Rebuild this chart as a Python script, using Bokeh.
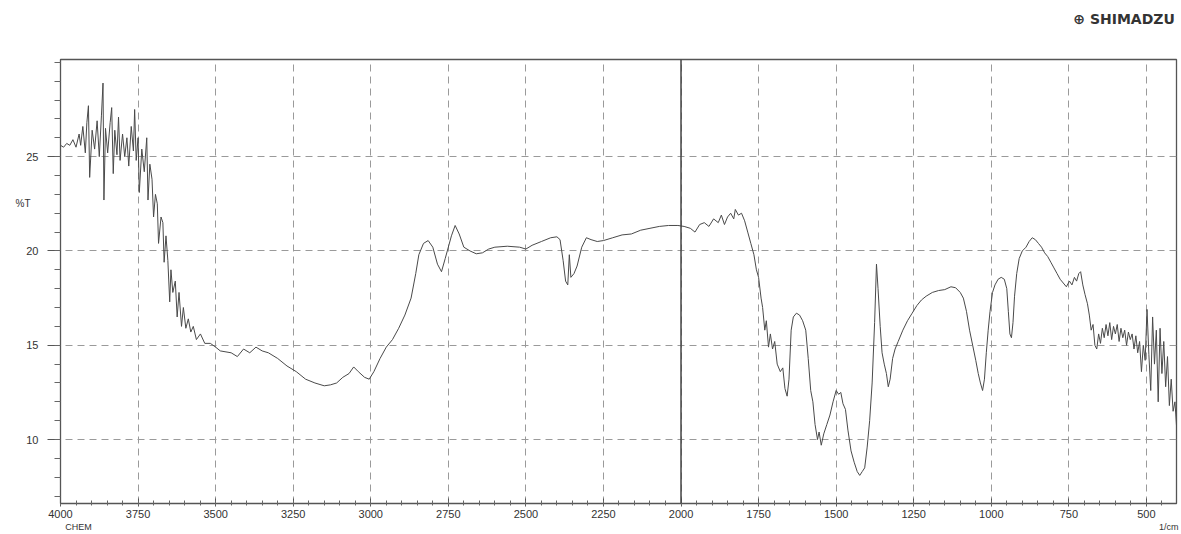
from bokeh.plotting import figure
from bokeh.models import Range1d, FixedTicker, Span, LinearAxis
from bokeh.embed import file_html
from bokeh.resources import INLINE

# wavenumber (1/cm) and transmittance (%T)
wavenumber = [
    4000, 3990, 3980, 3970, 3960, 3950, 3940, 3935, 3928, 3920, 3915, 3910, 3906,
    3898, 3890, 3882, 3875, 3868, 3863, 3860, 3855, 3848, 3840, 3835, 3830, 3825,
    3818, 3813, 3808, 3800, 3793, 3786, 3780, 3772, 3765, 3761, 3756, 3750, 3746,
    3738, 3730, 3722, 3718, 3712, 3705, 3700, 3694, 3688, 3684, 3676, 3670, 3666,
    3660, 3654, 3648, 3644, 3638, 3630, 3624, 3618, 3610, 3604, 3596, 3588, 3580,
    3572, 3562, 3549, 3535, 3517, 3500, 3485,
    3450, 3430, 3410, 3390, 3370, 3350, 3330, 3300, 3270, 3240, 3210, 3180, 3150,
    3130, 3110, 3090, 3070, 3055, 3040, 3020, 3005, 2990, 2970, 2950, 2930, 2910,
    2890, 2870, 2855, 2845, 2830, 2815, 2800, 2785, 2772, 2760, 2740, 2728, 2715,
    2700, 2680, 2660, 2640, 2620, 2600, 2560, 2520, 2500, 2480, 2450, 2420, 2400,
    2390, 2380, 2372, 2365, 2360, 2355, 2345, 2335, 2320, 2305, 2290, 2270, 2250,
    2220, 2190, 2160, 2130, 2100, 2070, 2040, 2010, 1990, 1970, 1955, 1940, 1925,
    1910, 1895, 1880, 1870, 1860, 1850, 1840, 1830, 1825, 1815, 1805, 1795, 1785,
    1775, 1765, 1757, 1750, 1742, 1737, 1730, 1725, 1718, 1712, 1705, 1698, 1690,
    1680, 1672, 1665, 1658, 1652, 1645, 1638, 1628, 1618, 1608, 1598, 1590, 1582,
    1575, 1568, 1560, 1555, 1548, 1540, 1530, 1520, 1510, 1500, 1492, 1485, 1478,
    1470, 1462, 1452, 1442, 1432, 1424, 1416, 1408, 1400, 1392, 1384, 1376, 1370,
    1365, 1358, 1352, 1345, 1338, 1332, 1326, 1318, 1310, 1300, 1285, 1270, 1255,
    1240, 1225, 1210, 1190, 1170, 1150, 1130, 1115, 1100, 1090, 1080, 1070, 1060,
    1050, 1042, 1035, 1028, 1022, 1016, 1010, 1004, 996, 988, 978, 968, 958, 950,
    945, 940, 935, 930, 925, 918, 910, 900, 888, 878, 868, 858, 848, 838, 828, 818,
    808, 798, 788, 778, 768, 758, 748, 740, 732, 725, 718, 712, 705, 698, 690, 684,
    678, 672, 666, 660, 654, 648, 642, 636, 630, 624, 618, 612, 606, 600, 594, 588,
    582, 576, 570, 564, 558, 552, 546, 540, 534, 528, 522, 516, 510, 504, 498, 492,
    486, 480, 474, 468, 462, 456, 450, 444, 438, 432, 426, 420, 414, 408, 402, 400,
]
transmittance = [
    25.6, 25.5, 25.7, 25.6, 25.9, 25.5, 26.2, 25.6, 26.6, 25.2, 26.8, 27.7, 23.9,
    26.4, 25.4, 26.9, 25.0, 27.2, 28.9, 22.7, 26.5, 25.2, 26.8, 27.6, 24.1, 26.4,
    25.1, 27.1, 24.8, 26.2, 25.0, 26.0, 24.5, 26.6, 25.3, 27.5, 24.8, 26.0, 23.1,
    25.4, 24.2, 26.0, 22.7, 24.6, 23.8, 21.8, 23.0, 22.5, 20.4, 21.8, 21.5, 19.4,
    20.8, 19.5, 17.3, 19.0, 17.8, 18.4, 16.5, 17.8, 16.0, 17.0, 15.9, 16.4, 15.7,
    16.0, 15.3, 15.6, 15.1, 15.1, 14.9, 14.7,
    14.6, 14.4, 14.8, 14.6, 14.9, 14.7, 14.6, 14.3, 13.9, 13.6, 13.2, 13.0, 12.85,
    12.9, 13.0, 13.3, 13.5, 13.85, 13.6, 13.3, 13.2, 13.6, 14.3, 14.9, 15.3, 15.9,
    16.6, 17.5, 18.8, 19.8, 20.4, 20.55, 20.2, 19.3, 18.9, 19.6, 20.8, 21.35, 20.9,
    20.2, 20.0, 19.85, 19.9, 20.1, 20.2, 20.25, 20.2, 20.1, 20.3, 20.5, 20.7, 20.75,
    20.6, 19.5, 18.4, 18.2, 19.8, 18.6, 18.8, 19.2, 20.2, 20.7, 20.6, 20.5, 20.55,
    20.7, 20.85, 20.9, 21.1, 21.2, 21.3, 21.35, 21.35, 21.3, 21.2, 21.0, 21.4, 21.5,
    21.3, 21.7, 21.5, 21.9, 21.4, 21.8, 22.0, 21.7, 22.2, 21.9, 22.0, 21.6, 21.0,
    20.4, 19.8, 19.0, 18.6, 17.5, 17.0, 15.8, 16.3, 14.9, 15.6, 14.8, 15.2, 14.0,
    13.6, 13.8, 12.7, 12.3, 13.2, 15.8, 16.5, 16.7, 16.6, 16.3, 15.8, 14.3, 12.6,
    12.0, 10.8, 10.0, 10.4, 9.7, 10.3, 10.8, 11.3, 12.0, 12.6, 12.4, 12.5, 11.9,
    11.6, 10.5, 9.4, 8.8, 8.3, 8.1, 8.3, 8.5, 9.6, 11.0, 13.0, 16.2, 19.3,
    18.0, 16.0, 14.6, 14.0, 13.5, 12.8, 13.2, 14.3, 14.8, 15.2, 15.8, 16.3, 16.7,
    17.1, 17.4, 17.6, 17.8, 17.9, 17.95, 18.1, 18.05, 17.8, 17.5, 16.8, 15.8, 15.0,
    14.2, 13.5, 13.0, 12.6, 13.2, 14.6, 15.8, 16.8, 17.8, 18.2, 18.5, 18.6, 18.5, 18.0,
    16.8, 15.6, 15.4, 16.2, 17.6, 18.8, 19.6, 20.0, 20.2, 20.5, 20.7, 20.6, 20.4, 20.2, 19.9, 19.7,
    19.4, 19.1, 18.8, 18.5, 18.3, 18.1, 18.4, 18.2, 18.6, 18.4, 18.8, 18.9, 18.2, 17.7, 17.2, 16.6,
    15.8, 16.1, 15.0, 14.8, 15.6, 15.1, 15.9, 15.4, 16.1, 15.5, 16.2, 15.3, 16.0, 15.6, 16.1, 15.2,
    15.9, 15.4, 15.8, 15.0, 15.7, 15.3, 15.6, 14.8, 15.5, 14.6, 15.2, 13.6, 15.0, 14.2, 16.9, 14.5,
    12.6, 16.5, 14.0, 15.8, 12.0, 15.9, 13.5, 15.2, 12.8, 14.4, 11.8, 13.2, 11.5, 12.0, 10.5, 9.8,
]

x_major = [4000, 3750, 3500, 3250, 3000, 2750, 2500, 2250, 2000, 1750, 1500, 1250, 1000, 750, 500]
y_major = [10, 15, 20, 25]
y_unit_label = "%T"
x_unit_label = "1/cm"
footer_label = "CHEM"
brand = "\u2295 SHIMADZU"

FONT = "Liberation Sans"
INK = "#333333"

p = figure(width=1181, height=534, output_backend="svg", toolbar_location=None, title=None,
           x_range=Range1d(4000, 403), y_range=Range1d(6.61, 30.15),
           min_border_left=60, min_border_right=5, min_border_top=59, min_border_bottom=30)
p.background_fill_color = "white"
p.border_fill_color = "white"
p.outline_line_color = "#555555"
p.outline_line_width = 1.3

p.xaxis.ticker = FixedTicker(ticks=x_major, minor_ticks=list(range(400, 4001, 50)))
p.yaxis.ticker = FixedTicker(ticks=y_major, minor_ticks=list(range(7, 31, 1)))
for ax in (p.xaxis[0], p.yaxis[0]):
    ax.axis_line_color = "#555555"
    ax.major_tick_line_color = "#555555"
    ax.minor_tick_line_color = "#666666"
    ax.major_label_text_font = FONT
    ax.major_label_text_font_size = "11px"
    ax.major_label_text_color = INK
p.xaxis.major_tick_in = 5
p.xaxis.major_tick_out = 3
p.xaxis.minor_tick_in = 3
p.xaxis.minor_tick_out = 2
p.xaxis.major_label_standoff = 3
p.yaxis.major_tick_in = 0
p.yaxis.major_tick_out = 13
p.yaxis.minor_tick_in = 0
p.yaxis.minor_tick_out = 6
p.yaxis.major_label_standoff = 9

# unit label for %T, sitting in the tick-label column on the left
y_unit_axis = LinearAxis(ticker=FixedTicker(ticks=[22.5], minor_ticks=[]),
                         major_label_overrides={22.5: y_unit_label},
                         axis_line_color=None, major_tick_line_color=None,
                         minor_tick_line_color=None, major_tick_out=0, major_tick_in=0,
                         major_label_standoff=-7, major_label_text_font=FONT,
                         major_label_text_font_size="10px", major_label_text_color=INK)
p.add_layout(y_unit_axis, "left")

# second row below the x axis: "CHEM" and "1/cm"
x_unit_axis = LinearAxis(ticker=FixedTicker(ticks=[3942, 428], minor_ticks=[]),
                         major_label_overrides={3942: footer_label, 428: x_unit_label},
                         axis_line_color=None, major_tick_line_color=None,
                         minor_tick_line_color=None, major_tick_out=0, major_tick_in=0,
                         major_label_standoff=1, major_label_text_font=FONT,
                         major_label_text_font_size="9px", major_label_text_color=INK)
p.add_layout(x_unit_axis, "below")

# instrument brand in the top-right corner
brand_axis = LinearAxis(ticker=FixedTicker(ticks=[572], minor_ticks=[]),
                        major_label_overrides={572: brand},
                        axis_line_color=None, major_tick_line_color=None,
                        minor_tick_line_color=None, major_tick_out=0, major_tick_in=0,
                        major_label_standoff=33, major_label_text_font="DejaVu Sans",
                        major_label_text_font_size="14px", major_label_text_font_style="bold",
                        major_label_text_color=INK)
p.add_layout(brand_axis, "above")

p.xgrid.ticker = FixedTicker(ticks=x_major)
p.ygrid.ticker = FixedTicker(ticks=y_major)
for g in (p.xgrid[0], p.ygrid[0]):
    g.grid_line_color = "#9a9a9a"
    g.grid_line_dash = "7 5"
    g.grid_line_width = 1

p.add_layout(Span(location=2000, dimension="height", line_color="#444444", line_width=1.5))

p.line(wavenumber, transmittance, line_color="#4a4a4a", line_width=1)

open("out.html", "w").write(file_html(p, INLINE))
